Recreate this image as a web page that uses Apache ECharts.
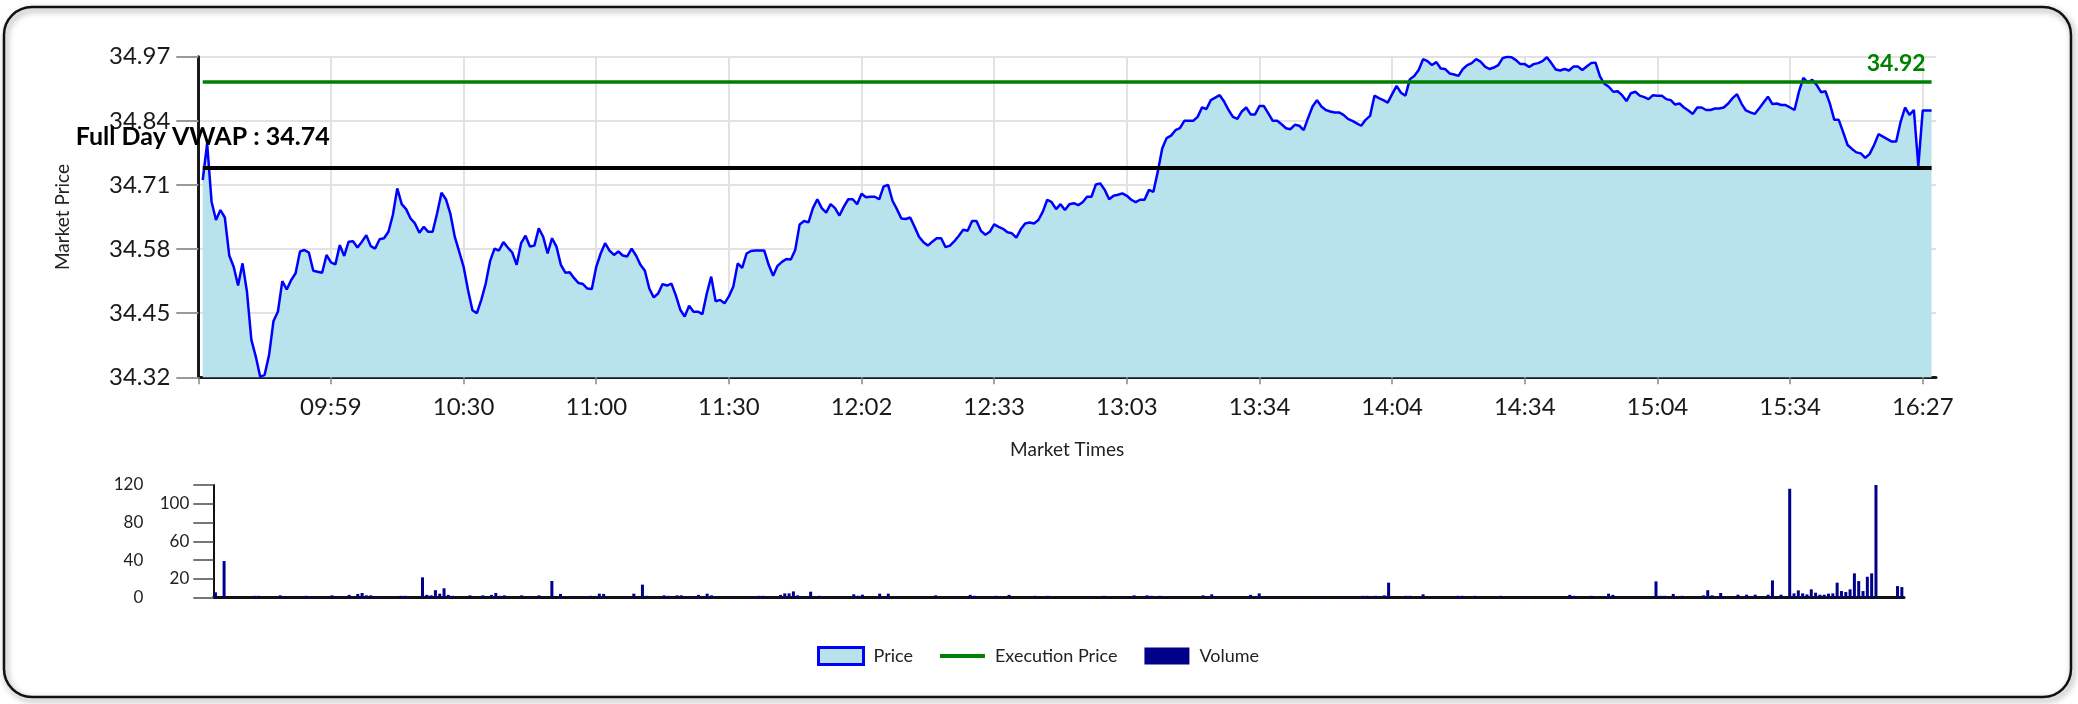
<!DOCTYPE html>
<html><head><meta charset="utf-8">
<script src="https://cdn.jsdelivr.net/npm/echarts@6/dist/echarts.min.js"></script>
<style>html,body{margin:0;padding:0;background:#fff;} #c{width:2078px;height:704px;}</style>
</head><body><div id="c"></div>
<script>
// ---- data ----
const tickLabels = ['', '09:59', '10:30', '11:00', '11:30', '12:02', '12:33', '13:03', '13:34', '14:04', '14:34', '15:04', '15:34', '16:27'];
const tickStep = 30;
const execPrice = 34.92;
const vwap = 34.744;
const priceAxis = { min: 34.32, max: 34.97, step: 0.13 };
const volumeAxis = { min: 0, max: 120, step: 20 };

const prices = [
34.720,34.794,34.676,34.639,34.659,34.644,34.567,34.544,34.506,34.551,
34.494,34.396,34.362,34.321,34.325,34.365,34.434,34.453,34.515,34.498,
34.517,34.531,34.575,34.578,34.573,34.536,34.534,34.532,34.568,34.553,
34.549,34.588,34.566,34.595,34.596,34.583,34.595,34.608,34.586,34.581,
34.600,34.602,34.615,34.649,34.703,34.671,34.661,34.642,34.632,34.613,
34.625,34.615,34.615,34.652,34.694,34.681,34.652,34.605,34.575,34.544,
34.497,34.456,34.450,34.477,34.510,34.556,34.581,34.577,34.594,34.583,
34.573,34.548,34.592,34.607,34.585,34.587,34.622,34.605,34.571,34.602,
34.585,34.548,34.532,34.533,34.521,34.511,34.509,34.500,34.499,34.544,
34.571,34.592,34.577,34.568,34.575,34.567,34.565,34.581,34.567,34.548,
34.536,34.500,34.482,34.490,34.509,34.506,34.510,34.486,34.457,34.443,
34.465,34.453,34.453,34.448,34.490,34.524,34.474,34.477,34.470,34.484,
34.504,34.551,34.542,34.571,34.576,34.577,34.577,34.577,34.548,34.526,
34.546,34.554,34.560,34.559,34.578,34.630,34.637,34.634,34.663,34.681,
34.663,34.654,34.671,34.663,34.648,34.666,34.681,34.681,34.671,34.692,
34.685,34.686,34.686,34.681,34.707,34.710,34.678,34.661,34.642,34.641,
34.644,34.625,34.605,34.594,34.587,34.595,34.602,34.602,34.584,34.587,
34.596,34.607,34.619,34.617,34.637,34.637,34.617,34.609,34.615,34.630,
34.625,34.621,34.614,34.612,34.603,34.620,34.632,34.634,34.632,34.639,
34.656,34.680,34.675,34.661,34.671,34.659,34.671,34.673,34.669,34.675,
34.686,34.686,34.711,34.713,34.700,34.681,34.688,34.690,34.693,34.688,
34.680,34.675,34.680,34.680,34.700,34.696,34.737,34.784,34.805,34.810,
34.821,34.825,34.840,34.840,34.840,34.848,34.867,34.864,34.882,34.887,
34.892,34.879,34.862,34.848,34.844,34.859,34.867,34.853,34.853,34.870,
34.870,34.855,34.840,34.840,34.833,34.825,34.823,34.832,34.830,34.821,
34.846,34.869,34.882,34.869,34.862,34.859,34.857,34.857,34.852,34.844,
34.840,34.835,34.830,34.842,34.850,34.891,34.886,34.882,34.877,34.894,
34.911,34.897,34.891,34.924,34.931,34.943,34.965,34.961,34.953,34.959,
34.946,34.945,34.936,34.934,34.931,34.945,34.953,34.957,34.965,34.960,
34.950,34.945,34.948,34.953,34.967,34.970,34.969,34.963,34.955,34.955,
34.949,34.955,34.957,34.961,34.969,34.957,34.944,34.942,34.945,34.942,
34.950,34.950,34.943,34.950,34.957,34.958,34.930,34.915,34.909,34.899,
34.900,34.892,34.880,34.896,34.899,34.891,34.888,34.884,34.892,34.891,
34.891,34.884,34.882,34.873,34.875,34.867,34.861,34.854,34.867,34.867,
34.862,34.862,34.865,34.865,34.867,34.875,34.886,34.894,34.875,34.861,
34.857,34.854,34.865,34.877,34.889,34.874,34.875,34.872,34.872,34.867,
34.862,34.899,34.927,34.918,34.923,34.913,34.898,34.900,34.875,34.842,
34.842,34.817,34.791,34.783,34.776,34.774,34.765,34.773,34.791,34.813,
34.808,34.803,34.798,34.798,34.838,34.867,34.852,34.862,34.748,34.861,
34.861,34.861
];

const volumes = [
5.7,0,39,0,0,0,0,0,0,2,
2,0,0,0,0,2.5,1,0,0.7,0.7,
0,2,1,0,0,1,0,2.5,0,0.7,
0,3,0,4,5,2.5,2.5,1,0,1,
0,0,1,2,2,0,0,0,21.7,3,
2.5,8,4.3,10,3,2,0,0,0,2.5,
0,0,2.5,0,3,5,2,2.5,0,0,
0,2.5,0,1,0,2.5,0,0,17.8,0,
4,0,0,1,0,1,0,2,0,4.3,
4,0,0,0,0,1,0,4.3,0,13.9,
2,0,1,0,2.5,2,0,2.5,2.5,0,
1,1,3,0,4.3,2.5,1,0,0,1,
1,0,0,0,1,0,2,2,0,0,
0,3,4.6,4.6,6.7,2.5,1,0,6.4,0,
2,0,0,1,0,1,0,0,3.6,2,
3.2,0,0,0,4.3,0,4.3,0,1,0,
0,0,1,0,1,0,0,2.5,0,0,
0,1,1,0,0,3,2,0,0,1,
0,2,0,0,3,0,0,0,0,0,
2,0,0,2,0,0,0,0,0,0,
0,1,0,1,0,0,2,0,0,0,
1,0,0,2.5,0,0,2.5,2,0,2,
0,0,1,0,0,0,0,0,0,2.5,
0,3.6,1,0,0,1,0,0,0,0,
3,0,4.6,0,1,1,0,0,0,0,
0,1,0,0,0,0,0,1,0,0,
0,1,0,0,1,0,2,2,0,2,
1,2.5,16,0,0,0,2,2,0,0,
3.6,0,1,0,0,0,0,0,2,2,
0,0,2,0,0,0,0,0,2,0,
0,0,0,1,0,0,0,0,0,0,
1,0,0,0,3,2,0,0,0,2,
0,0,0,4.3,3,0,0,1,0,0,
1,0,0,0,17.4,2,2,0,4,0,
2,0,0,0,0,2.5,8,2.5,0,5,
0,0,0,3.2,0,3.2,0,3.2,0,0,
3.2,18.4,0,3.2,0,116,4.6,7.8,4.6,3.5,
8.9,5.3,3.2,3.2,4.3,4.6,16,7.1,6,8.9,
25.9,17.7,7.1,22.3,25.9,120,0,0,0,0,
12.4,11.3
];

// ---- build ----
const n = prices.length;
const priceCats = [];
for (let i = 0; i <= n + 1; i++) priceCats.push(String(i));
const volCats = priceCats.slice(1, n + 1);
const priceData = [null].concat(prices, [null]);

const FONT = 'Lato, "DejaVu Sans", sans-serif';
const isTick = (i) => i % tickStep === 0;

const chart = echarts.init(document.getElementById('c'), null, { renderer: 'canvas' });
chart.setOption({
  animation: false,
  backgroundColor: '#ffffff',
  textStyle: { fontFamily: FONT },
  graphic: [{
    type: 'rect', silent: true, z: -10,
    shape: { x: 4, y: 7, width: 2067, height: 690, r: 28 },
    style: { fill: 'none', stroke: '#111', lineWidth: 2.5, shadowBlur: 6, shadowOffsetX: 2, shadowOffsetY: 3, shadowColor: 'rgba(0,0,0,0.45)' }
  }],
  legend: {
    left: 812, top: 641, itemWidth: 45, itemHeight: 17, itemGap: 27,
    textStyle: { fontFamily: FONT, fontSize: 18, color: '#222', padding: [0, 0, 0, 5] },
    data: [
      { name: 'Price', icon: 'rect', itemStyle: { color: '#b9e3ec', borderColor: '#0000ff', borderWidth: 3 } },
      { name: 'Execution Price', icon: 'path://M0,0H44V4H0Z', itemStyle: { color: '#008000' } },
      { name: 'Volume', icon: 'rect', itemStyle: { color: '#00008b' } }
    ]
  },
  grid: [
    { left: 198.3, top: 56.7, width: 1737.7, height: 320.6, containLabel: false, outerBoundsMode: 'none' },
    { left: 213.3, top: 485, width: 1690.7, height: 112.7, containLabel: false, outerBoundsMode: 'none' }
  ],
  xAxis: [
    {
      type: 'category', gridIndex: 0, data: priceCats, boundaryGap: false,
      axisLine: { show: true, onZero: false, lineStyle: { color: '#1a1a1a', width: 3 } },
      axisTick: { show: true, interval: isTick, length: 7, lineStyle: { color: '#888', width: 1.5 } },
      axisLabel: { show: true, interval: isTick, margin: 18, fontFamily: FONT, fontSize: 24, color: '#1a1a1a',
        formatter: (v, i) => { const k = Number(v) / tickStep; return Number.isInteger(k) && tickLabels[k] !== undefined ? tickLabels[k] : ''; } },
      splitLine: { show: true, interval: isTick, lineStyle: { color: '#e2e2e2', width: 2 } },
      name: 'Market Times', nameLocation: 'middle', nameGap: 63,
      nameTextStyle: { fontFamily: FONT, fontSize: 19, color: '#222' }
    },
    {
      type: 'category', gridIndex: 1, data: volCats, boundaryGap: true,
      axisLine: { show: true, onZero: false, lineStyle: { color: '#111', width: 3 } },
      axisTick: { show: false }, axisLabel: { show: false }, splitLine: { show: false }
    }
  ],
  yAxis: [
    {
      type: 'value', gridIndex: 0, min: priceAxis.min, max: priceAxis.max, interval: priceAxis.step,
      axisLine: { show: true, lineStyle: { color: '#1a1a1a', width: 3 } },
      axisTick: { show: true, length: 22, lineStyle: { color: '#999', width: 2 } },
      axisLabel: { show: true, margin: 28, fontFamily: FONT, fontSize: 24, color: '#1a1a1a', formatter: (v) => v.toFixed(2) },
      splitLine: { show: true, lineStyle: { color: '#e2e2e2', width: 2 } },
      name: 'Market Price', nameLocation: 'middle', nameGap: 126, nameRotate: 90,
      nameTextStyle: { fontFamily: FONT, fontSize: 19, color: '#222' }
    },
    {
      type: 'value', gridIndex: 1, min: volumeAxis.min, max: volumeAxis.max, interval: volumeAxis.step,
      axisLine: { show: true, lineStyle: { color: '#111', width: 2 } },
      axisTick: { show: true, length: 20, lineStyle: { color: '#777', width: 2 } },
      splitLine: { show: false },
      axisLabel: {
        show: true, margin: 24, fontFamily: FONT, fontSize: 17, color: '#222',
        formatter: (v) => ((v / volumeAxis.step) % 2 === 0 ? '{a|' + v + '}' : '{b|' + v + '}'),
        rich: {
          a: { fontFamily: FONT, fontSize: 17, color: '#222', padding: [0, 46, 0, 0] },
          b: { fontFamily: FONT, fontSize: 17, color: '#222' }
        }
      }
    }
  ],
  series: [
    {
      name: 'Price', type: 'line', xAxisIndex: 0, yAxisIndex: 0, data: priceData,
      symbol: 'none', showSymbol: false, connectNulls: false,
      lineStyle: { color: '#0000ff', width: 2.5 }, itemStyle: { color: '#0000ff' },
      areaStyle: { color: '#b9e3ec', opacity: 1 },
      z: 2,
      markLine: {
        silent: true, symbol: ['none', 'none'], animation: false,
        data: [
          [{ coord: ['1', vwap], lineStyle: { color: '#000', width: 4, type: 'solid' }, label: { show: false } },
           { coord: [String(n), vwap] }],
          [{ coord: ['1', execPrice], lineStyle: { color: '#008000', width: 3.5, type: 'solid' },
             label: { show: true, position: 'insideEndTop', distance: 6, formatter: execPrice.toFixed(2),
                      color: '#008000', fontWeight: 'bold', fontSize: 23, fontFamily: FONT } },
           { coord: [String(n), execPrice] }]
        ]
      },
      markPoint: {
        silent: true, symbol: 'circle', symbolSize: 0, animation: false,
        data: [{ coord: ['1', vwap], itemStyle: { color: 'transparent' },
          label: { show: true, position: 'top', distance: 19, formatter: 'Full Day VWAP : ' + vwap.toFixed(2),
                   color: '#000', fontWeight: 'bold', fontSize: 25, fontFamily: FONT } }]
      }
    },
    { name: 'Execution Price', type: 'line', xAxisIndex: 0, yAxisIndex: 0, data: [],
      itemStyle: { color: '#008000' }, lineStyle: { color: '#008000' } },
    { name: 'Volume', type: 'bar', xAxisIndex: 1, yAxisIndex: 1, data: volumes, barWidth: 3,
      itemStyle: { color: '#00008b' } }
  ]
});
</script>
</body></html>
